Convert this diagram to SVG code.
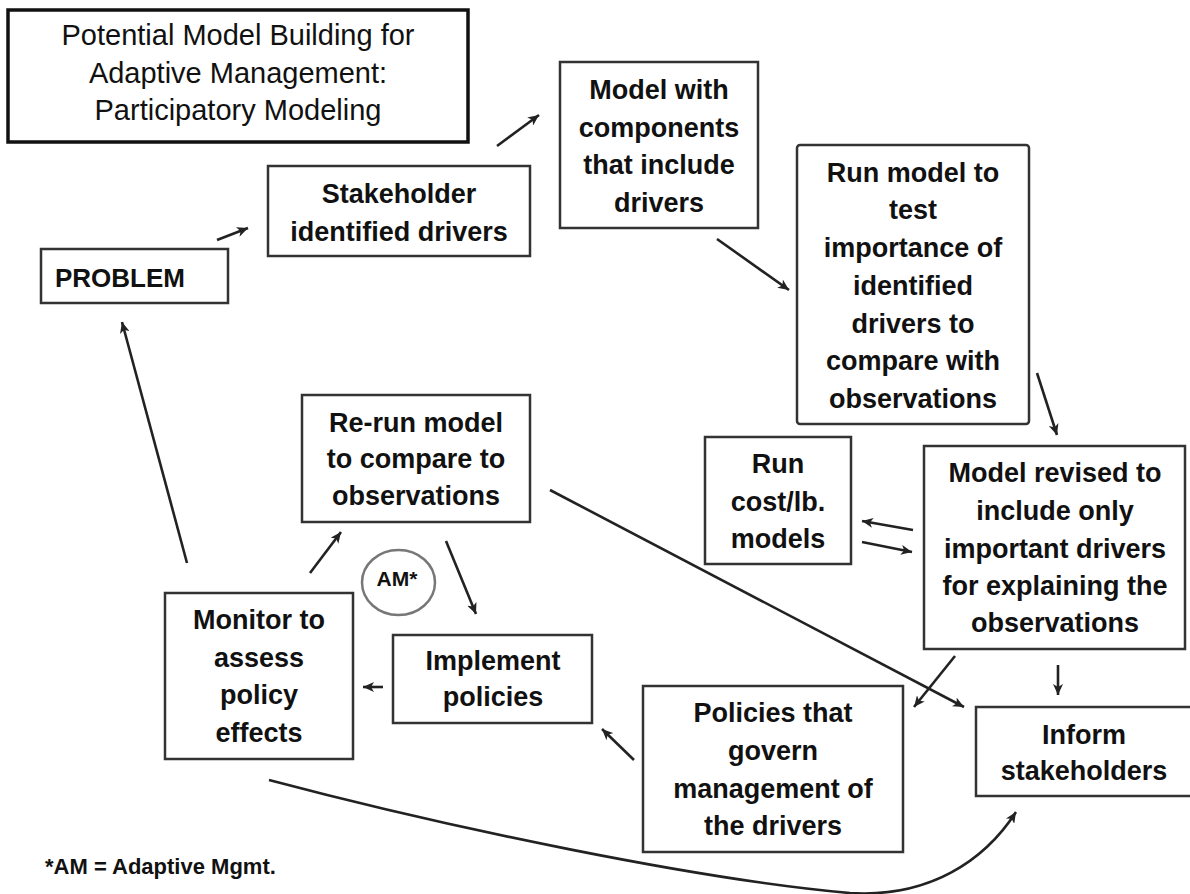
<svg xmlns="http://www.w3.org/2000/svg" width="1190" height="894" viewBox="0 0 1190 894">
<style>
.box{fill:#fff;stroke:#333;stroke-width:2.5}
.t{font-family:"Liberation Sans",Arial,sans-serif;font-weight:bold;font-size:27px;fill:#111;text-anchor:middle}
.title{font-family:"Liberation Sans",Arial,sans-serif;font-size:29px;fill:#111;text-anchor:middle}
.c{fill:none;stroke:#222;stroke-width:2.6;marker-end:url(#ah)}
</style>
<defs>
<marker id="ah" markerUnits="userSpaceOnUse" markerWidth="12" markerHeight="10" refX="11" refY="5" orient="auto">
<path d="M0,0 L11,5 L0,10 L3,5 Z" fill="#222"/>
</marker>
</defs>
<rect width="1190" height="894" fill="#fff"/>

<g id="title">
<rect x="8" y="10" width="460" height="132" fill="#fff" stroke="#111" stroke-width="3.5"/>
<text class="title" x="238" y="45">Potential Model Building for</text>
<text class="title" x="238" y="83">Adaptive Management:</text>
<text class="title" x="238" y="120">Participatory Modeling</text>
</g>

<g id="problem">
<rect class="box" x="41" y="249" width="187" height="54"/>
<text class="t" x="55" y="287" style="text-anchor:start;font-size:26px">PROBLEM</text>
</g>

<g id="stakeholder">
<rect class="box" x="268" y="166" width="262" height="90"/>
<text class="t" x="399" y="203">Stakeholder</text>
<text class="t" x="399" y="241">identified drivers</text>
</g>

<g id="model-with">
<rect class="box" x="560" y="62" width="198" height="166"/>
<text class="t" x="659" y="99">Model with</text>
<text class="t" x="659" y="137">components</text>
<text class="t" x="659" y="174">that include</text>
<text class="t" x="659" y="212">drivers</text>
</g>

<g id="run-model">
<rect class="box" x="797" y="145" width="232" height="279" rx="3"/>
<text class="t" x="913" y="182">Run model to</text>
<text class="t" x="913" y="219">test</text>
<text class="t" x="913" y="257">importance of</text>
<text class="t" x="913" y="295">identified</text>
<text class="t" x="913" y="333">drivers to</text>
<text class="t" x="913" y="370">compare with</text>
<text class="t" x="913" y="408">observations</text>
</g>

<g id="run-cost">
<rect class="box" x="705" y="437" width="146" height="127"/>
<text class="t" x="778" y="473">Run</text>
<text class="t" x="778" y="511">cost/lb.</text>
<text class="t" x="778" y="548">models</text>
</g>

<g id="model-revised">
<rect class="box" x="924" y="446" width="261" height="203"/>
<text class="t" x="1055" y="482">Model revised to</text>
<text class="t" x="1055" y="520">include only</text>
<text class="t" x="1055" y="558">important drivers</text>
<text class="t" x="1055" y="595">for explaining the</text>
<text class="t" x="1055" y="632">observations</text>
</g>

<g id="inform">
<rect class="box" x="976" y="707" width="217" height="89"/>
<text class="t" x="1084" y="744">Inform</text>
<text class="t" x="1084" y="780">stakeholders</text>
</g>

<g id="policies">
<rect class="box" x="643" y="686" width="260" height="166"/>
<text class="t" x="773" y="722">Policies that</text>
<text class="t" x="773" y="760">govern</text>
<text class="t" x="773" y="798">management of</text>
<text class="t" x="773" y="835">the drivers</text>
</g>

<g id="implement">
<rect class="box" x="393" y="635" width="199" height="88"/>
<text class="t" x="493" y="670">Implement</text>
<text class="t" x="493" y="706">policies</text>
</g>

<g id="monitor">
<rect class="box" x="165" y="593" width="188" height="166"/>
<text class="t" x="259" y="629">Monitor to</text>
<text class="t" x="259" y="667">assess</text>
<text class="t" x="259" y="704">policy</text>
<text class="t" x="259" y="742">effects</text>
</g>

<g id="rerun">
<rect class="box" x="302" y="395" width="228" height="127"/>
<text class="t" x="416" y="432">Re-run model</text>
<text class="t" x="416" y="468">to compare to</text>
<text class="t" x="416" y="505">observations</text>
</g>

<g id="am">
<ellipse cx="398.5" cy="582.5" rx="36.5" ry="32.5" fill="none" stroke="#777" stroke-width="2.5"/>
<text class="t" x="397" y="586" style="font-size:21px">AM*</text>
</g>

<g id="connectors">
<line class="c" x1="217" y1="240" x2="248" y2="228"/>
<line class="c" x1="497" y1="146" x2="539" y2="115"/>
<line class="c" x1="717" y1="239" x2="789" y2="290"/>
<line class="c" x1="1037" y1="373" x2="1057" y2="435"/>
<line class="c" x1="913" y1="530" x2="862" y2="521"/>
<line class="c" x1="862" y1="542" x2="912" y2="552"/>
<line class="c" x1="955" y1="656" x2="914" y2="707"/>
<line class="c" x1="1058" y1="665" x2="1058" y2="695"/>
<line class="c" x1="634" y1="760" x2="602" y2="729"/>
<line class="c" x1="383" y1="687" x2="363" y2="687"/>
<line class="c" x1="310" y1="573" x2="341" y2="532"/>
<line class="c" x1="446" y1="541" x2="476" y2="614"/>
<line class="c" x1="187" y1="563" x2="122" y2="322"/>
<line class="c" x1="550" y1="490" x2="964" y2="707"/>
<path class="c" d="M269,780 C450,828 700,880 850,893 C930,898 985,860 1016,812"/>
</g>

<g id="footnote">
<text class="t" x="45" y="874" style="text-anchor:start;font-size:22px">*AM = Adaptive Mgmt.</text>
</g>
</svg>
